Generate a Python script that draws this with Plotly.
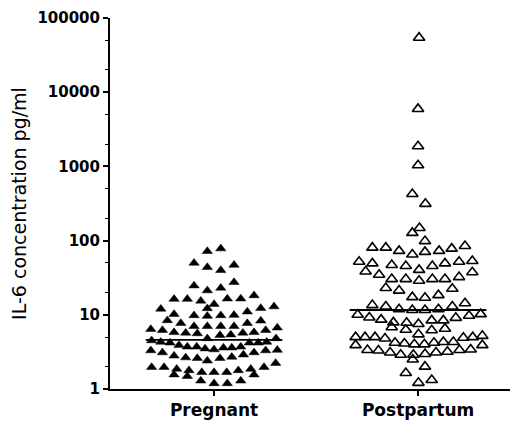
import plotly.graph_objects as go

categories = ["Pregnant", "Postpartum"]

# IL-6 values (pg/ml) and horizontal scatter offsets (category units)
pregnant_values = [
    71.8, 78.0, 49.9, 43.7, 39.8, 46.9, 24.7, 21.2, 23.0, 27.4,
    16.3, 16.3, 15.4, 16.5, 16.5, 18.2, 13.9, 12.2, 12.0, 12.3,
    12.9, 10.2, 9.8, 9.6, 9.8, 9.9, 11.0, 8.4, 7.7, 8.3,
    7.7, 7.0, 7.0, 7.0, 7.0, 6.4, 6.2, 5.8, 5.7, 5.6,
    6.7, 5.7, 5.8, 6.2, 5.3, 5.4, 4.5, 4.3, 4.2, 3.9,
    3.7, 3.7, 4.8, 3.5, 3.4, 3.6, 3.6, 3.7, 4.2, 4.2,
    4.3, 4.8, 3.3, 3.1, 2.8, 2.65, 2.6, 2.4, 2.6, 2.7,
    2.9, 3.1, 3.3, 3.35, 1.97, 1.97, 1.86, 1.78, 1.68, 1.68,
    1.68, 1.78, 1.86, 1.97, 2.23, 1.56, 1.49, 1.56, 1.29, 1.19,
    1.19, 1.29,
]
pregnant_offsets = [
    -0.033, 0.033, -0.098, -0.033, 0.033, 0.098, -0.098, -0.033, 0.033, 0.098,
    -0.196, -0.131, -0.065, 0.065, 0.131, 0.196, 0.0, -0.033, -0.261, 0.229,
    0.294, -0.196, -0.098, -0.033, 0.033, 0.098, 0.163, -0.229, -0.163, 0.229,
    0.163, -0.098, -0.033, 0.033, 0.098, -0.310, -0.253, -0.196, -0.139, -0.082,
    0.310, 0.141, 0.196, 0.253, 0.029, 0.082, -0.306, -0.261, -0.216, -0.172,
    -0.131, -0.085, -0.033, -0.044, 0.0, 0.046, 0.087, 0.131, 0.173, 0.217,
    0.258, 0.304, -0.310, -0.253, -0.196, -0.139, -0.082, -0.033, 0.029, 0.087,
    0.144, 0.196, 0.253, 0.310, -0.306, -0.245, -0.183, -0.123, -0.060, 0.0,
    0.062, 0.119, 0.180, 0.245, 0.302, -0.196, -0.131, 0.196, -0.065, 0.0,
    0.065, 0.131,
]

postpartum_values = [
    54300, 5950, 1870, 1037, 425, 313, 147.6, 127,
    98.4, 80.3, 80.3, 72.6, 64.9, 70.4, 72.6, 77.9, 84.5,
    51.9, 49.3, 46.9, 45.5, 40.3, 45.5, 49.3, 51.9, 53.0,
    38.3, 34.6, 30.3, 30.3, 28.8, 30.3, 30.3, 32.2, 37.5,
    23.0, 21.2, 22.4, 17.3, 17.0, 18.4,
    13.5, 12.9, 12.9, 14.3, 11.9, 11.6, 11.6, 11.9,
    10.0, 9.2, 8.6, 7.9, 7.8, 7.5, 8.4, 8.4, 9.1, 9.7, 10.2,
    6.8, 6.3, 6.2, 6.5, 5.45,
    5.0, 5.0, 5.0, 4.8, 4.2, 4.1, 4.0, 4.0, 4.2, 4.3, 4.3, 4.9, 5.0, 5.2,
    3.9, 3.35, 3.3, 3.1, 2.9, 2.9, 2.96, 3.1, 3.18, 3.35, 3.4, 3.9,
    2.5, 2.0, 1.64, 1.21, 1.32,
]
postpartum_offsets = [
    0.005, 0.0, 0.0, 0.0, -0.028, 0.036, 0.007, -0.028,
    0.034, -0.224, -0.158, -0.093, -0.028, 0.034, 0.103, 0.165, 0.230,
    -0.289, -0.224, -0.129, -0.060, 0.005, 0.070, 0.132, 0.201, 0.266,
    -0.257, -0.191, -0.129, -0.060, 0.005, 0.070, 0.132, 0.201, 0.266,
    -0.158, -0.093, 0.168, -0.028, 0.034, 0.100,
    -0.224, -0.158, 0.168, 0.230, -0.093, -0.028, 0.034, 0.100,
    -0.296, -0.239, -0.181, -0.121, -0.056, 0.002, 0.067, 0.124, 0.185, 0.250, 0.307,
    -0.129, -0.060, 0.067, 0.132, 0.002,
    -0.306, -0.260, -0.211, -0.162, -0.113, -0.067, -0.018, 0.031, 0.078, 0.124, 0.173, 0.222, 0.268, 0.315,
    -0.306, -0.248, -0.194, -0.137, -0.085, -0.023, 0.034, 0.088, 0.144, 0.203, 0.258, 0.315,
    -0.026, 0.034, -0.060, 0.002, 0.067,
]

medians = [4.6, 11.6]
median_half_width = 0.335

y_tick_values = [1, 10, 100, 1000, 10000, 100000]
y_tick_labels = ["1", "10", "100", "1000", "10000", "100000"]

fig = go.Figure()

fig.add_trace(go.Scatter(
    x=[0 + o for o in pregnant_offsets], y=pregnant_values, mode="markers",
    marker=dict(symbol="triangle-up", size=9, color="black",
                line=dict(width=0.5, color="black")),
    showlegend=False, cliponaxis=False,
))
fig.add_trace(go.Scatter(
    x=[1 + o for o in postpartum_offsets], y=postpartum_values, mode="markers",
    marker=dict(symbol="triangle-up-open", size=10, color="black",
                line=dict(width=1.6, color="black")),
    showlegend=False, cliponaxis=False,
))
for i, m in enumerate(medians):
    fig.add_trace(go.Scatter(
        x=[i - median_half_width, i + median_half_width], y=[m, m],
        mode="lines", line=dict(color="black", width=1.8),
        showlegend=False, hoverinfo="skip",
    ))

# The page body adds an 8px margin, so the figure is sized to fit the window.
fig.update_layout(
    width=510, height=413,
    margin=dict(l=102, r=1, t=8, b=28),
    paper_bgcolor="white", plot_bgcolor="white",
    font=dict(family="DejaVu Sans", color="black"),
)
fig.update_xaxes(
    range=[-0.51, 1.485], showgrid=False, zeroline=False,
    showline=True, linecolor="black", linewidth=2,
    tickmode="array", tickvals=[0, 1], ticktext=categories,
    ticks="outside", ticklen=5, tickwidth=2, tickcolor="black",
    tickfont=dict(family="DejaVu Sans", size=17, weight="bold", color="black"),
)
fig.update_yaxes(
    type="log", range=[0, 5], showgrid=False, zeroline=False,
    showline=True, linecolor="black", linewidth=2,
    tickmode="array", tickvals=y_tick_values, ticktext=y_tick_labels,
    ticks="outside", ticklen=5, tickwidth=2, tickcolor="black",
    ticklabeloverflow="allow",
    minor=dict(ticks="outside", ticklen=3, tickwidth=1, tickcolor="black", showgrid=False),
    tickfont=dict(family="DejaVu Sans", size=15, weight="bold", color="black"),
    title=dict(text="IL-6 concentration pg/ml",
               font=dict(family="DejaVu Sans", size=19, color="black"), standoff=12),
)

fig.write_html("out.html")
